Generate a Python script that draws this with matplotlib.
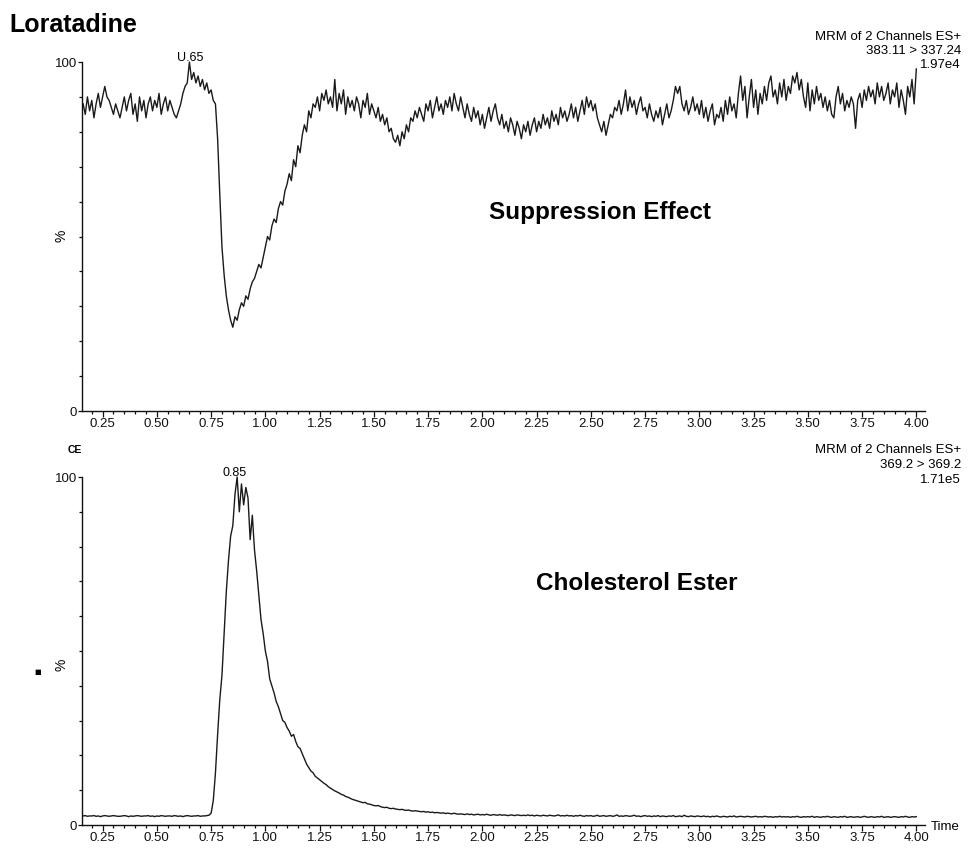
import matplotlib
matplotlib.use('Agg')
import matplotlib.pyplot as plt
import numpy as np
from matplotlib.ticker import MultipleLocator

# ---------------- data ----------------
T_START = 0.16   # first sample time (min)
T_STEP = 0.01    # sampling step (min)

# Loratadine, MRM 383.11 > 337.24, relative intensity (%)
loratadine = [
    88, 85, 90, 86, 89, 84, 88, 91, 87, 90,
    93, 90, 89, 87, 85, 88, 86, 84, 87, 90,
    86, 89, 91, 85, 88, 83, 90, 86, 89, 84,
    88, 90, 86, 89, 87, 91, 85, 88, 90, 86,
    89, 87, 85, 84,
    86, 88, 91, 93, 94, 100, 95, 97, 94, 96,
    93, 95, 92, 94, 91, 92, 89, 88, 78, 62,
    47, 39, 33, 29, 26, 24, 27, 26, 29, 31,
    30, 33, 32, 35, 37, 38, 40, 42, 41, 44,
    47, 50, 49, 53, 55, 54, 58, 60, 59, 63,
    65, 68, 66, 72, 70, 76, 74, 79, 82, 80,
    86, 84, 88, 87, 90, 86, 91, 89, 92, 88,
    90, 87, 95, 86, 91, 88, 92, 85, 90, 87,
    89, 86, 90, 88, 84, 89, 87, 91, 85, 88,
    86, 84, 87, 83, 85, 82, 84, 80, 81, 78,
    77, 79, 76, 80, 78, 82, 80, 84, 83, 86,
    84, 87, 85, 83, 88, 86, 89, 84, 87, 90,
    86, 88, 85, 89, 87, 90, 86, 91, 88, 86,
    90, 87, 84, 88, 85, 83, 87, 84, 86, 82,
    85, 81, 84, 87, 83, 86, 88, 84, 82, 85,
    81, 83, 80, 84, 82, 79, 83, 81, 78, 82,
    80, 83, 79, 82, 84, 80, 83, 81, 85, 82,
    84, 81, 86, 83, 85, 82, 87, 84, 86, 83,
    85, 88, 84, 87, 83, 86, 89, 85, 90, 87,
    89, 86, 88, 84, 82, 80, 83, 79, 82, 85,
    84, 87, 86, 89, 85, 88, 92, 86, 90, 87,
    89, 85, 88, 90, 86, 87, 84, 88, 85, 83,
    86, 84, 87, 82, 85, 88, 84, 86, 89, 93,
    91, 93, 88, 86, 89, 85, 87, 90, 86, 88,
    85, 89, 84, 87, 83, 86, 88, 82, 85, 84,
    87, 83, 89, 85, 90, 86, 88, 84, 91, 96,
    89, 93, 84, 90, 95, 87, 92, 85, 91, 88,
    93, 89, 94, 96, 90, 92, 88, 94, 90, 95,
    89, 93, 91, 96, 94, 97, 92, 95, 90, 87,
    94, 86, 92, 88, 93, 89, 91, 87, 90, 86,
    89, 85, 84, 90, 93, 88, 91, 86, 89, 87,
    90, 88, 81, 89, 91, 87, 92, 89, 93, 90,
    92, 88, 94, 90, 93, 89, 91, 94, 88, 92,
    90, 94, 87, 92, 89, 85, 93, 90, 95, 88, 98,
]

# Cholesterol ester, MRM 369.2 > 369.2, relative intensity (%)
cholesterol_ester = [
    2.6, 2.7, 2.5, 2.6, 2.6, 2.7, 2.5, 2.6, 2.4, 2.6,
    2.7, 2.6, 2.5, 2.6, 2.7, 2.6, 2.5, 2.5, 2.6, 2.7,
    2.6, 2.4, 2.6, 2.5, 2.6, 2.7, 2.6, 2.5, 2.6, 2.6,
    2.7, 2.5, 2.6, 2.4, 2.6, 2.5, 2.7, 2.6, 2.5, 2.6,
    2.6, 2.5, 2.7, 2.6, 2.5, 2.6, 2.4, 2.6, 2.7, 2.6,
    2.5, 2.6, 2.6, 2.7, 2.5, 2.6, 2.6, 2.7, 2.8,
    3.4, 7, 15, 26, 36, 43, 55, 67, 76, 83,
    86, 95, 100, 90, 98, 92, 97, 94, 82, 89,
    79, 73, 66, 59, 55, 50, 47, 42, 40, 38,
    35.5, 34, 32, 30, 29.5, 28, 27, 25.5, 26, 24,
    22.5, 22, 20.5, 19, 17.5, 16.5, 15.5, 15, 14, 13.5,
    13, 12.5, 12, 11.6, 11,
    10.6, 10.2, 9.8, 9.5, 9.2, 8.8, 8.6, 8.2, 8.0, 7.7,
    7.4, 7.2, 7.0, 6.8, 6.6, 6.4, 6.5, 6.1, 6.0, 5.8,
    5.6, 5.5, 5.6, 5.3, 5.1, 5.0, 5.1, 4.8, 4.7, 4.8,
    4.6, 4.5, 4.4, 4.5, 4.3, 4.2, 4.3, 4.1, 4.0, 4.1,
    4.0, 3.9, 3.8, 3.9, 3.7, 3.8, 3.6, 3.7, 3.5, 3.6,
    3.5, 3.4, 3.5, 3.3, 3.4, 3.3, 3.2, 3.4, 3.2, 3.1,
    3.2, 3.1, 3.0, 3.2, 3.0, 3.1, 2.9, 3.0, 3.1, 2.9,
    3.0, 2.9, 3.1, 2.9, 2.8, 3.0, 2.9, 2.8, 3.0, 2.8,
    2.9, 2.8, 2.7, 2.9, 2.8, 2.7, 2.9, 2.8, 2.7, 2.8,
    2.7, 2.9, 2.7, 2.8, 2.6, 2.8, 2.7, 2.6, 2.8, 2.7,
    2.6, 2.8, 2.7, 2.6, 2.7, 2.9, 2.6, 2.7, 2.6, 2.8,
    2.6, 2.7, 2.5, 2.7, 2.6, 2.8, 2.6, 2.5, 2.7, 2.6,
    2.7, 2.5, 2.6, 2.8, 2.5, 2.6, 2.7, 2.5, 2.6, 2.7,
    2.5, 2.6, 2.9, 2.5, 2.6, 2.5, 2.7, 2.6, 2.5, 2.6,
    2.8, 2.5, 2.6, 2.4, 2.6, 2.7, 2.5, 2.6, 2.4, 2.6,
    2.5, 2.7, 2.4, 2.6, 2.5, 2.4, 2.6, 2.5, 2.7, 2.4,
    2.5, 2.6, 2.4, 2.8, 2.5, 2.4, 2.6, 2.5, 2.4, 2.6,
    2.5, 2.4, 2.6, 2.4, 2.5, 2.3, 2.5, 2.4, 2.6, 2.4,
    2.3, 2.5, 2.4, 2.3, 2.5, 2.4, 2.6, 2.3, 2.4, 2.5,
    2.4, 2.3, 2.5, 2.4, 2.3, 2.4, 2.5, 2.3, 2.4, 2.3,
    2.5, 2.4, 2.3, 2.4, 2.2, 2.4, 2.3, 2.5, 2.3, 2.4,
    2.3, 2.4, 2.2, 2.4, 2.3, 2.5, 2.3, 2.2, 2.4, 2.3,
    2.4, 2.3, 2.5, 2.2, 2.4, 2.3, 2.2, 2.4, 2.3, 2.5,
    2.3, 2.2, 2.4, 2.3, 2.2, 2.4, 2.3, 2.5, 2.2, 2.3,
    2.4, 2.2, 2.3, 2.4, 2.2, 2.3, 2.5, 2.3, 2.2, 2.4,
    2.3, 2.2, 2.4, 2.3, 2.5, 2.2, 2.3, 2.4, 2.2, 2.3,
    2.4, 2.3, 2.2, 2.4, 2.3, 2.5, 2.3, 2.2, 2.4, 2.3, 2.4,
]

x_ticks = [0.25, 0.50, 0.75, 1.00, 1.25, 1.50, 1.75, 2.00,
           2.25, 2.50, 2.75, 3.00, 3.25, 3.50, 3.75, 4.00]
x_tick_labels = ['0.25', '0.50', '0.75', '1.00', '1.25', '1.50', '1.75', '2.00',
                 '2.25', '2.50', '2.75', '3.00', '3.25', '3.50', '3.75', '4.00']
y_ticks = [0, 100]
y_tick_labels = ['0', '100']

top_header = ['MRM of 2 Channels ES+', '383.11 > 337.24', '1.97e4']
bottom_header = ['MRM of 2 Channels ES+', '369.2 > 369.2', '1.71e5']
top_peak_label = ('U.65', 0.655, 100)
bottom_peak_label = ('0.85', 0.86, 100)

# ---------------- figure ----------------
W, H = 968, 849
SANS = ['Liberation Sans', 'DejaVu Sans']

fig = plt.figure(figsize=(W / 100, H / 100), dpi=100)
fig.patch.set_facecolor('white')


def px_axes(left, top, right, bottom):
    return fig.add_axes([left / W, 1 - bottom / H, (right - left) / W, (bottom - top) / H])


def fx(x):
    return x / W


def fy(y):
    return 1 - y / H


def style(ax):
    for s in ('top', 'right'):
        ax.spines[s].set_visible(False)
    for s in ('left', 'bottom'):
        ax.spines[s].set_linewidth(1.0)
        ax.spines[s].set_color('#111111')
    ax.set_xlim(0.155, 4.04)
    ax.set_ylim(0, 100)
    ax.set_xticks(x_ticks)
    ax.set_xticklabels(x_tick_labels, family=SANS, fontsize=9.5)
    ax.xaxis.set_minor_locator(MultipleLocator(0.05))
    ax.set_yticks(y_ticks)
    ax.set_yticklabels(y_tick_labels, family=SANS, fontsize=9.5)
    ax.yaxis.set_minor_locator(MultipleLocator(10))
    ax.tick_params(axis='x', which='major', length=4.5, width=0.9, pad=0.5, colors='#111111')
    ax.tick_params(axis='x', which='minor', length=2.5, width=0.9, colors='#111111')
    ax.tick_params(axis='y', which='major', length=3, width=0.9, pad=0.5, colors='#111111')
    ax.tick_params(axis='y', which='minor', length=2, width=0.9, colors='#111111')
    ax.set_facecolor('none')


t1 = T_START + T_STEP * np.arange(len(loratadine))
t2 = T_START + T_STEP * np.arange(len(cholesterol_ester))

# top panel: Loratadine infusion showing the suppression
ax1 = px_axes(82, 62, 925, 411)
style(ax1)
ax1.plot(t1, loratadine, color='#1a1a1a', lw=1.0, clip_on=False)
ax1.text(top_peak_label[1], top_peak_label[2] - 0.5, top_peak_label[0], ha='center', va='bottom',
         family=SANS, fontsize=9)

# bottom panel: cholesterol ester
ax2 = px_axes(82, 477, 925, 825)
style(ax2)
ax2.plot(t2, cholesterol_ester, color='#1a1a1a', lw=1.0, clip_on=False)
ax2.text(bottom_peak_label[1], bottom_peak_label[2] - 0.5, bottom_peak_label[0], ha='center',
         va='bottom', family=SANS, fontsize=9)

# titles and annotations
fig.text(fx(9), fy(25), 'Loratadine', ha='left', va='center', fontsize=18, weight='bold', family=SANS)
fig.text(fx(600), fy(213), 'Suppression Effect', ha='center', va='center', fontsize=17.5,
         weight='bold', family=SANS)
fig.text(fx(637), fy(583), 'Cholesterol Ester', ha='center', va='center', fontsize=17.5,
         weight='bold', family=SANS)
fig.text(fx(68), fy(450), 'CE', ha='left', va='center', fontsize=7.5, weight='bold', family=SANS)

for i, s in enumerate(top_header):
    fig.text(fx(961), fy(37 + 14 * i), s, ha='right', va='center', fontsize=9.5, family=SANS)
for i, s in enumerate(bottom_header):
    fig.text(fx(961), fy(450 + 15 * i), s, ha='right', va='center', fontsize=9.5, family=SANS)

fig.text(fx(62), fy(236), '%', ha='center', va='center', rotation=90, fontsize=10, family=SANS)
fig.text(fx(62), fy(665), '%', ha='center', va='center', rotation=90, fontsize=10, family=SANS)
fig.text(fx(38), fy(672), '\u25a0', ha='center', va='center', fontsize=5, family=['DejaVu Sans'])
fig.text(fx(931), fy(827), 'Time', ha='left', va='center', fontsize=9.5, family=SANS)

fig.savefig('out.png', dpi=100, facecolor='white')
